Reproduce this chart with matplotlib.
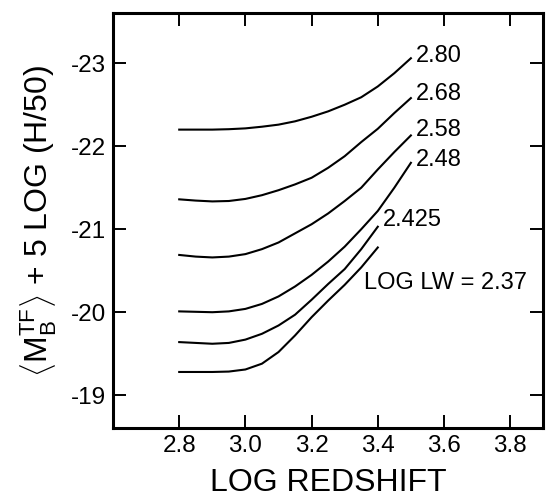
import numpy as np
from matplotlib import pyplot as plt

#%% Data
log_z = [2.80, 2.85, 2.90, 2.95, 3.00, 3.05, 3.10, 3.15, 3.20, 3.25, 3.30, 3.35, 3.40, 3.45, 3.50]

m_280 = [-22.20, -22.20, -22.20, -22.205, -22.215, -22.235, -22.26, -22.30, -22.355, -22.42, -22.50, -22.59, -22.72, -22.88, -23.06]
m_268 = [-21.36, -21.345, -21.335, -21.34, -21.365, -21.41, -21.47, -21.54, -21.62, -21.74, -21.88, -22.05, -22.21, -22.40, -22.58]
m_258 = [-20.69, -20.67, -20.66, -20.67, -20.70, -20.76, -20.84, -20.95, -21.06, -21.19, -21.34, -21.50, -21.72, -21.93, -22.13]
m_248 = [-20.01, -20.005, -20.00, -20.01, -20.04, -20.10, -20.19, -20.31, -20.45, -20.61, -20.79, -21.00, -21.22, -21.50, -21.80]
m_2425 = [-19.64, -19.63, -19.62, -19.63, -19.67, -19.74, -19.84, -19.97, -20.15, -20.34, -20.52, -20.76, -21.03]
m_237 = [-19.28, -19.28, -19.28, -19.285, -19.31, -19.38, -19.52, -19.72, -19.94, -20.14, -20.33, -20.54, -20.78]

curves = [m_280, m_268, m_258, m_248, m_2425, m_237]
labels = ['2.80', '2.68', '2.58', '2.48', '2.425', 'LOG LW = 2.37']
label_pos = [(3.514, -23.09), (3.514, -22.63), (3.514, -22.19), (3.514, -21.83),
             (3.414, -21.115), (3.359, -20.35)]

xticks = [2.8, 3.0, 3.2, 3.4, 3.6, 3.8]
yticks = [-23, -22, -21, -20, -19]

#%% Plotting
plt.rcParams['font.family'] = ['Liberation Sans', 'DejaVu Sans']
plt.rcParams['mathtext.fontset'] = 'custom'
plt.rcParams['mathtext.rm'] = 'Liberation Sans'
plt.rcParams['mathtext.it'] = 'Liberation Sans'
plt.rcParams['mathtext.bf'] = 'Liberation Sans:bold'

fig = plt.figure(figsize=(5.46, 4.97), dpi=100)
ax = fig.add_axes([0.207, 0.138, 0.788, 0.835])

for y in curves:
    ax.plot(log_z[:len(y)], y, color='black', lw=1.5)

for txt, (x, y) in zip(labels, label_pos):
    ax.text(x, y, txt, fontsize=17, ha='left', va='center')

ax.set_xlim(2.6, 3.9)
ax.set_ylim(-18.6, -23.6)
ax.set_xticks(xticks)
ax.set_xticklabels(['%.1f' % t for t in xticks])
ax.set_yticks(yticks)
ax.set_yticklabels(['%d' % t for t in yticks])

ax.tick_params(direction='in', length=9.5, width=1.4, labelsize=17.5,
               top=True, right=True, pad=5)
for s in ax.spines.values():
    s.set_linewidth(2.2)

ax.set_xlabel('LOG REDSHIFT', fontsize=23, labelpad=8)
ax.set_ylabel(r'$\left\langle \mathrm{M}_{\mathrm{B}}^{\mathrm{TF}} \right\rangle$ + 5 LOG (H/50)',
              fontsize=23, labelpad=9)

plt.savefig('out.png', dpi=100)
